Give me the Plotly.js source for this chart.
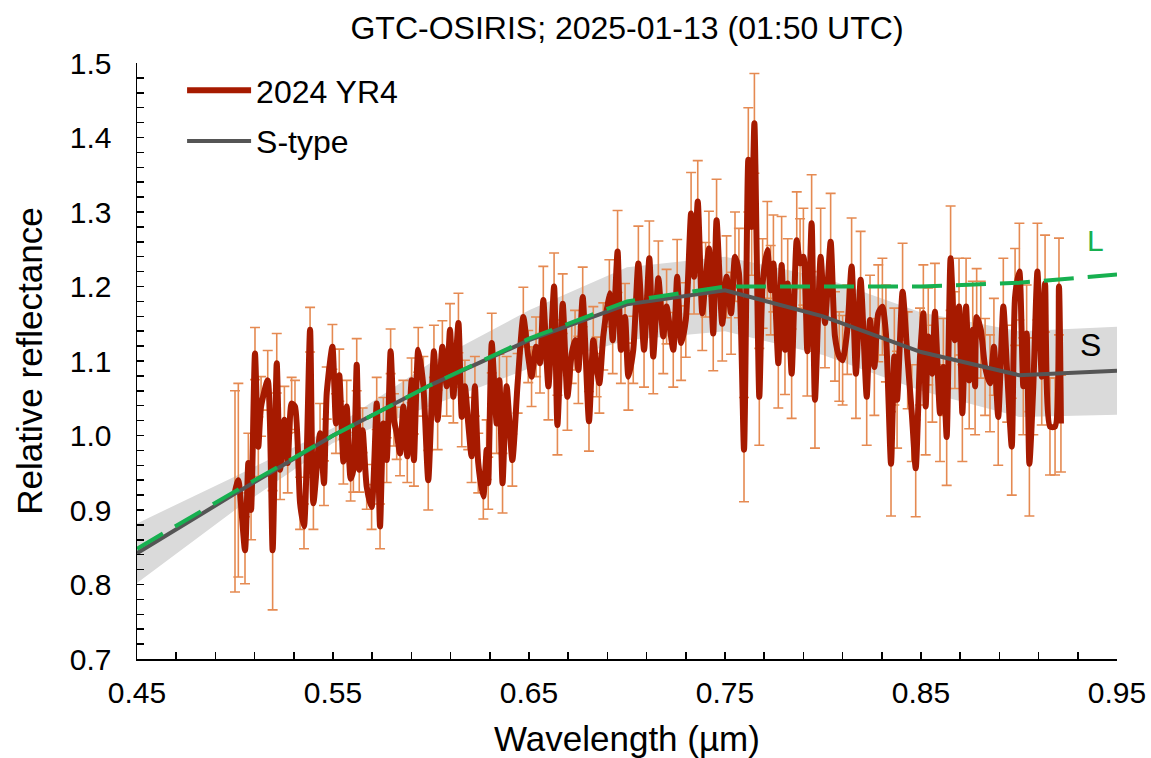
<!DOCTYPE html>
<html>
<head>
<meta charset="utf-8">
<script src="https://cdn.plot.ly/plotly-3.0.1.min.js"></script>
<style>html,body{margin:0;padding:0;background:#fff;}#chart{width:1151px;height:758px;}</style>
</head>
<body>
<div id="chart"></div>
<script>
// ---- 2024 YR4 spectrum ----
const wavelength = [
0.5000,0.5017,0.5051,0.5068,0.5082,0.5102,0.5119,0.5133,0.5167,0.5192,0.5213,0.5230,0.5252,0.5269,0.5289,0.5306,0.5332,0.5352,0.5383,0.5400,0.5434,0.5454,0.5468,0.5497,
0.5515,0.5532,0.5553,0.5570,0.5590,0.5604,0.5621,0.5634,0.5651,0.5672,0.5697,0.5723,0.5740,0.5757,0.5774,0.5794,0.5811,0.5825,0.5842,0.5859,0.5879,0.5901,0.5913,0.5935,0.5961,0.5986,0.6015,0.6034,0.6058,
0.6080,0.6097,0.6114,0.6140,0.6157,0.6173,0.6190,0.6207,0.6224,0.6241,0.6267,0.6284,0.6292,0.6310,0.6335,0.6349,0.6365,0.6386,0.6415,0.6442,0.6471,0.6496,0.6513,0.6536,0.6556,0.6573,0.6599,
0.6628,0.6645,0.6672,0.6696,0.6718,0.6735,0.6752,0.6774,0.6806,0.6828,0.6845,0.6859,0.6879,0.6910,0.6927,0.6952,0.6969,0.6990,0.7007,0.7032,0.7058,0.7087,0.7114,0.7134,
0.7160,0.7185,0.7202,0.7236,0.7256,0.7276,0.7300,0.7327,0.7342,0.7361,0.7384,0.7401,0.7418,0.7440,0.7457,0.7486,0.7508,0.7531,0.7551,0.7571,0.7597,0.7619,0.7636,0.7650,
0.7675,0.7692,0.7716,0.7733,0.7747,0.7772,0.7789,0.7806,0.7820,0.7840,0.7866,0.7883,0.7900,0.7920,0.7942,0.7959,0.7988,0.8010,0.8039,0.8061,0.8083,0.8100,0.8124,0.8146,0.8168,0.8192,
0.8223,0.8240,0.8262,0.8282,0.8303,0.8321,0.8347,0.8364,0.8378,0.8406,0.8432,0.8453,0.8473,0.8495,0.8512,0.8524,0.8537,0.8558,0.8571,0.8597,0.8614,0.8631,0.8651,0.8673,0.8694,0.8711,
0.8730,0.8746,0.8764,0.8776,0.8784,0.8805,0.8827,0.8852,0.8872,0.8894,0.8920,0.8940,0.8963,0.8980,0.9002,0.9022,0.9039,0.9053,0.9073,0.9094,0.9116,0.9133,0.9158,0.9184,0.9204,0.9214
];
const reflectance = [
0.925,0.940,0.846,0.963,0.900,1.110,0.985,1.039,1.074,0.846,1.097,0.954,1.021,0.963,1.043,1.039,0.909,0.878,1.142,0.909,1.003,0.936,1.057,1.119,
1.016,1.081,0.965,1.039,0.942,0.954,1.095,0.954,1.007,0.931,0.904,1.043,0.878,1.016,0.967,1.113,1.021,1.003,0.976,1.039,0.972,1.074,0.967,1.115,1.066,0.940,1.113,1.021,1.119,
1.066,1.142,1.052,1.151,1.025,1.066,1.016,0.972,1.066,0.963,0.918,0.981,0.936,1.124,1.016,1.074,0.936,1.066,0.967,1.070,1.159,1.106,1.079,1.119,1.097,1.182,1.066,
1.200,1.014,1.177,1.052,1.110,1.128,1.088,1.186,1.019,1.128,1.092,1.070,1.133,1.191,1.128,1.247,1.115,1.159,1.079,1.115,1.231,1.115,1.238,1.106,
1.211,1.133,1.173,1.115,1.213,1.124,1.155,1.298,1.213,1.314,1.164,1.209,1.251,1.137,1.289,1.150,1.213,1.164,1.240,1.218,0.981,1.370,1.280,1.419,
1.052,1.204,1.249,1.195,1.231,1.097,1.229,1.115,1.204,1.083,1.262,1.231,1.240,1.113,1.285,1.048,1.240,1.151,1.260,1.133,1.106,1.101,1.142,1.227,1.083,1.209,
1.052,1.155,1.092,1.164,1.173,1.137,0.962,1.106,1.048,1.193,1.101,1.030,0.956,1.106,1.164,1.039,1.133,1.083,1.166,1.030,1.092,0.998,1.238,1.128,1.173,1.030,
1.173,1.074,1.142,1.066,1.159,1.142,1.092,1.070,1.119,1.025,1.173,1.083,0.985,1.186,1.220,1.066,1.137,0.962,1.066,1.220,1.079,1.204,1.012,1.012,1.200,1.016
];
const reflectanceErr = [
0.135,0.130,0.045,0.040,0.040,0.035,0.040,0.040,0.040,0.080,0.040,0.040,0.045,0.040,0.035,0.035,0.035,0.030,0.030,0.035,0.040,0.030,0.035,0.030,
0.040,0.035,0.030,0.035,0.030,0.030,0.035,0.030,0.030,0.030,0.030,0.035,0.030,0.035,0.030,0.030,0.035,0.035,0.030,0.035,0.035,0.030,0.035,0.030,0.040,0.040,0.035,0.040,0.035,
0.040,0.035,0.035,0.040,0.040,0.035,0.035,0.035,0.040,0.040,0.030,0.040,0.035,0.040,0.040,0.035,0.040,0.040,0.035,0.040,0.040,0.035,0.040,0.040,0.040,0.045,0.045,
0.045,0.040,0.040,0.045,0.040,0.040,0.045,0.040,0.040,0.045,0.040,0.040,0.045,0.045,0.045,0.055,0.045,0.045,0.045,0.045,0.050,0.050,0.050,0.050,
0.050,0.050,0.050,0.050,0.050,0.050,0.050,0.055,0.050,0.055,0.050,0.050,0.050,0.050,0.055,0.050,0.055,0.055,0.060,0.060,0.070,0.070,0.065,0.067,
0.065,0.060,0.065,0.060,0.065,0.060,0.065,0.060,0.060,0.060,0.065,0.060,0.065,0.060,0.065,0.065,0.065,0.060,0.065,0.060,0.060,0.060,0.060,0.065,0.060,0.065,
0.065,0.060,0.065,0.065,0.065,0.065,0.070,0.065,0.065,0.065,0.065,0.065,0.065,0.065,0.065,0.065,0.065,0.065,0.065,0.065,0.065,0.065,0.070,0.065,0.065,0.065,
0.065,0.065,0.065,0.065,0.065,0.065,0.065,0.065,0.065,0.065,0.065,0.065,0.065,0.065,0.065,0.065,0.065,0.070,0.065,0.065,0.065,0.065,0.065,0.065,0.065,0.065
];

// ---- S-type template with its uncertainty band ----
const sWave  = [0.45, 0.50, 0.55, 0.60, 0.65, 0.70, 0.75, 0.80, 0.85, 0.90, 0.95];
const sRefl  = [0.842, 0.922, 1.000, 1.068, 1.128, 1.176, 1.195, 1.160, 1.112, 1.081, 1.087];
const sUpper = [0.882, 0.945, 1.010, 1.098, 1.168, 1.226, 1.240, 1.212, 1.165, 1.140, 1.146];
const sLower = [0.802, 0.900, 0.990, 1.040, 1.090, 1.128, 1.140, 1.108, 1.060, 1.025, 1.028];

// ---- L-type template ----
const lWave = [0.45, 0.50, 0.55, 0.60, 0.65, 0.70, 0.75, 0.80, 0.85, 0.90, 0.95];
const lRefl = [0.848, 0.925, 1.000, 1.068, 1.130, 1.180, 1.200, 1.200, 1.200, 1.205, 1.216];

// ---- labels ----
const titleText = 'GTC-OSIRIS; 2025-01-13 (01:50 UTC)';
const xTitle = 'Wavelength (µm)';
const yTitle = 'Relative reflectance';
const xTickVals = [0.45, 0.55, 0.65, 0.75, 0.85, 0.95];
const xTickText = ['0.45', '0.55', '0.65', '0.75', '0.85', '0.95'];
const yTickVals = [0.7, 0.8, 0.9, 1.0, 1.1, 1.2, 1.3, 1.4, 1.5];
const yTickText = ['0.7', '0.8', '0.9', '1.0', '1.1', '1.2', '1.3', '1.4', '1.5'];
const seriesNames = ['2024 YR4', 'S-type'];
const curveLabels = ['L', 'S'];
const curveLabelX = [0.9388, 0.9367];
const curveLabelY = [1.262, 1.121];

const FONT = 'Liberation Sans, Arial, Helvetica, sans-serif';

const traces = [
  { x: sWave, y: sLower, mode: 'lines', line: {width: 0, color: 'rgba(0,0,0,0)'},
    showlegend: false, hoverinfo: 'skip' },
  { x: sWave, y: sUpper, mode: 'lines', line: {width: 0, color: 'rgba(0,0,0,0)'},
    fill: 'tonexty', fillcolor: '#dadada', showlegend: false, hoverinfo: 'skip' },
  { x: wavelength, y: reflectance, mode: 'markers',
    marker: {size: 1, color: 'rgba(0,0,0,0)'},
    error_y: {type: 'data', array: reflectanceErr, visible: true, color: '#e58a52', thickness: 1.6, width: 5},
    showlegend: false, hoverinfo: 'skip' },
  { x: wavelength, y: reflectance, mode: 'lines', name: seriesNames[0], legendgroup: 'a',
    line: {color: '#a61a00', width: 6, shape: 'spline', smoothing: 0.6} },
  { x: sWave, y: sRefl, mode: 'lines', name: seriesNames[1], legendgroup: 'b',
    line: {color: '#555555', width: 4} },
  { x: lWave, y: lRefl, mode: 'lines', showlegend: false,
    line: {color: '#17b050', width: 4, dash: '30px,14px'} }
];

const axisCommon = {
  showgrid: false, zeroline: false, showline: true, linecolor: '#000', linewidth: 1.5,
  ticks: 'inside', ticklen: 7, tickwidth: 1.5, tickcolor: '#000', mirror: false,
  tickfont: {family: FONT, size: 30, color: '#000'}
};

const layout = {
  width: 1151, height: 758,
  paper_bgcolor: '#fff', plot_bgcolor: '#fff',
  margin: {l: 137, r: 34, t: 63, b: 99},
  font: {family: FONT, color: '#000'},
  title: {text: titleText, font: {family: FONT, size: 32, color: '#000'},
          x: 0.5, xref: 'paper', y: 1 - 28/758, yref: 'container', yanchor: 'middle'},
  xaxis: Object.assign({}, axisCommon, {
    range: [0.45, 0.95], tickmode: 'array', tickvals: xTickVals, ticktext: xTickText,
    ticklabelstandoff: 6,
    minor: {dtick: 0.02, tick0: 0.45, ticks: 'inside', ticklen: 7, tickwidth: 1.5, tickcolor: '#000', showgrid: false},
    title: {text: xTitle, font: {family: FONT, size: 35, color: '#000'}, standoff: 20}
  }),
  yaxis: Object.assign({}, axisCommon, {
    range: [0.7, 1.5], tickmode: 'array', tickvals: yTickVals, ticktext: yTickText,
    ticklabelstandoff: 18,
    minor: {dtick: 0.02, tick0: 0.7, ticks: 'inside', ticklen: 7, tickwidth: 1.5, tickcolor: '#000', showgrid: false},
    title: {text: yTitle, font: {family: FONT, size: 35, color: '#000'}, standoff: 16}
  }),
  legend: {x: 0.046, y: 1.0, xanchor: 'left', yanchor: 'top', bgcolor: 'rgba(0,0,0,0)',
           font: {family: FONT, size: 32, color: '#000'}, traceorder: 'grouped', tracegroupgap: 6,
           itemwidth: 64},
  annotations: [
    {x: curveLabelX[0], y: curveLabelY[0], xref: 'x', yref: 'y', text: curveLabels[0], showarrow: false,
     font: {family: FONT, size: 30, color: '#17b050'}},
    {x: curveLabelX[1], y: curveLabelY[1], xref: 'x', yref: 'y', text: curveLabels[1], showarrow: false,
     font: {family: FONT, size: 32, color: '#000'}}
  ],
  showlegend: true
};

Plotly.newPlot('chart', traces, layout, {displayModeBar: false, staticPlot: true});
</script>
</body>
</html>
